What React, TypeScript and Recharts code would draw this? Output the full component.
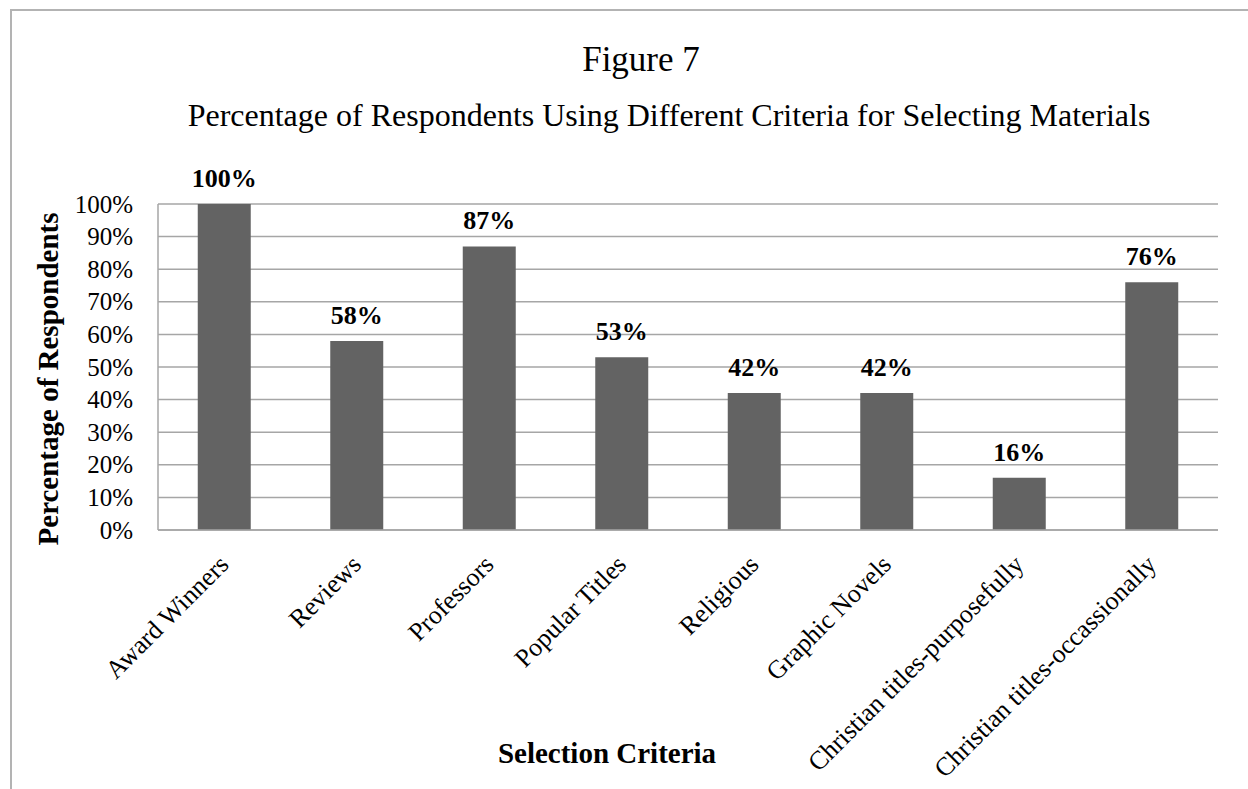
import { BarChart, Bar, XAxis, YAxis, CartesianGrid, LabelList } from "recharts";

const FONT = '"Liberation Serif", "Times New Roman", serif';

const categories = [
  "Award Winners",
  "Reviews",
  "Professors",
  "Popular Titles",
  "Religious",
  "Graphic Novels",
  "Christian titles-purposefully",
  "Christian titles-occassionally",
];
const percentages = [100, 58, 87, 53, 42, 42, 16, 76];
const yTicks = [0, 10, 20, 30, 40, 50, 60, 70, 80, 90, 100];

const data = categories.map((name, i) => ({ name, value: percentages[i] }));

function CategoryTick({ x, y, payload }: any) {
  return (
    <text
      transform={`translate(${x + 6},${y + 36}) rotate(-45)`}
      textAnchor="end"
      fontFamily={FONT}
      fontSize={26}
      fill="#000"
    >
      {payload.value}
    </text>
  );
}

function PercentTick({ x, y, payload }: any) {
  return (
    <text
      x={x}
      y={y}
      dy="0.34em"
      textAnchor="end"
      fontFamily={FONT}
      fontSize={25}
      fill="#000"
    >
      {payload.value}%
    </text>
  );
}

function ValueLabel({ x, y, width, value }: any) {
  return (
    <text
      x={x + width / 2}
      y={y - 17}
      textAnchor="middle"
      fontFamily={FONT}
      fontWeight="bold"
      fontSize={26}
      fill="#000"
    >
      {value}%
    </text>
  );
}

export default function App() {
  return (
    <div
      style={{
        position: "fixed",
        left: 0,
        top: 0,
        width: 1248,
        height: 789,
        overflow: "hidden",
        background: "#fff",
      }}
    >
      <div
        style={{
          position: "absolute",
          left: 10,
          top: 9,
          width: 1400,
          height: 1000,
          borderTop: "2px solid #b3b3b3",
          borderLeft: "2px solid #b3b3b3",
        }}
      />
      <div style={{ position: "absolute", left: 0, top: 0 }}>
        <BarChart
          width={1248}
          height={789}
          data={data}
          margin={{ top: 204, right: 30, bottom: 229, left: 98 }}
          barCategoryGap="30%"
        >
          <CartesianGrid vertical={false} stroke="#a6a6a6" strokeWidth={1.5} />
          <XAxis
            dataKey="name"
            interval={0}
            height={30}
            tickSize={0}
            tickMargin={0}
            tickLine={false}
            axisLine={{ stroke: "#a6a6a6", strokeWidth: 1.5 }}
            tick={<CategoryTick />}
          />
          <YAxis
            width={60}
            domain={[0, 100]}
            ticks={yTicks}
            interval={0}
            tickSize={0}
            tickMargin={25}
            tickLine={false}
            axisLine={{ stroke: "#a6a6a6", strokeWidth: 1.5 }}
            tick={<PercentTick />}
          />
          <Bar dataKey="value" fill="#636363" isAnimationActive={false}>
            <LabelList dataKey="value" content={<ValueLabel />} />
          </Bar>
        </BarChart>
      </div>
      <svg
        width={1248}
        height={789}
        style={{ position: "absolute", left: 0, top: 0, pointerEvents: "none" }}
      >
        <text x={641} y={71} textAnchor="middle" fontFamily={FONT} fontSize={35} fill="#000">
          Figure 7
        </text>
        <text x={669} y={126} textAnchor="middle" fontFamily={FONT} fontSize={32} fill="#000">
          Percentage of Respondents Using Different Criteria for Selecting Materials
        </text>
        <text
          transform="translate(58,379) rotate(-90)"
          textAnchor="middle"
          fontFamily={FONT}
          fontWeight="bold"
          fontSize={29}
          fill="#000"
        >
          Percentage of Respondents
        </text>
        <text
          x={607}
          y={763}
          textAnchor="middle"
          fontFamily={FONT}
          fontWeight="bold"
          fontSize={29}
          fill="#000"
        >
          Selection Criteria
        </text>
      </svg>
    </div>
  );
}
